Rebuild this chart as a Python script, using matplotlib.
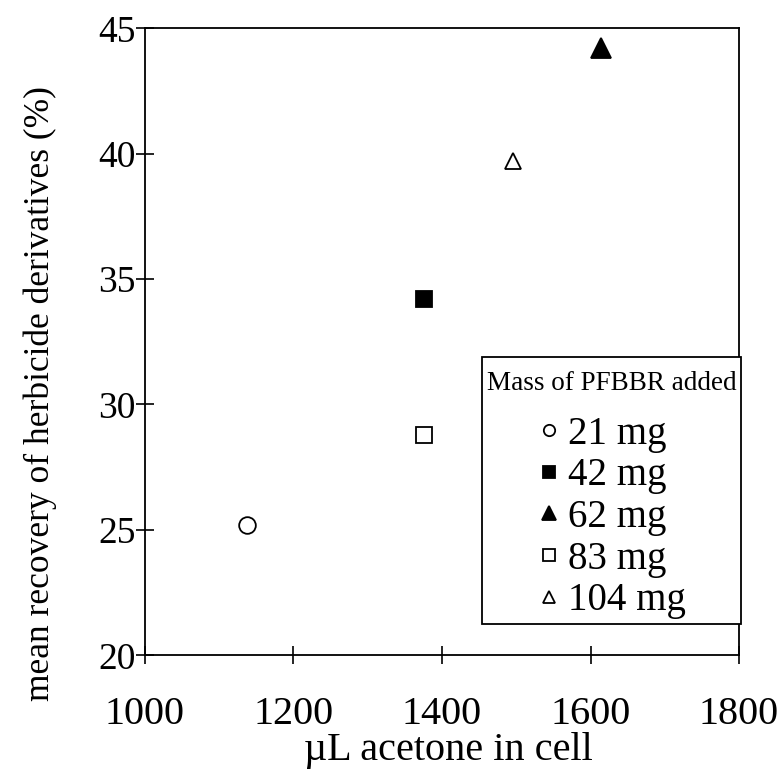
import matplotlib
matplotlib.use("Agg")
import matplotlib.pyplot as plt
from matplotlib.lines import Line2D
from matplotlib.offsetbox import VPacker, DrawingArea

plt.rcParams['font.family'] = ['Liberation Serif', 'DejaVu Serif']

labels = ["21 mg", "42 mg", "62 mg", "83 mg", "104 mg"]
acetone_uL = [1138, 1376, 1614, 1376, 1495]
recovery_pct = [25.2, 34.2, 44.2, 28.8, 39.7]
markers = ["o", "s", "^", "s", "^"]
fills = ["white", "black", "black", "white", "white"]
sizes = [12, 12, 14, 12, 12]

fig = plt.figure(figsize=(7.79, 7.81), dpi=100)
ax = fig.add_axes([0.186, 0.161, 0.7627, 0.8028])

handles = []
for x, y, m, f, s, lab in zip(acetone_uL, recovery_pct, markers, fills, sizes, labels):
    ax.plot([x], [y], linestyle="none", marker=m, markersize=s,
            markerfacecolor=f, markeredgecolor="black", markeredgewidth=1.3)
    handles.append(Line2D([], [], linestyle="none", marker=m, markersize=s * 0.68,
                          markerfacecolor=f, markeredgecolor="black",
                          markeredgewidth=1.3, label=lab))

ax.set_xlim(1000, 1800)
ax.set_ylim(20, 45)
ax.set_xticks([1000, 1200, 1400, 1600, 1800])
ax.set_yticks([20, 25, 30, 35, 40, 45])
ax.tick_params(axis="both", direction="inout", length=13, width=1.2)
ax.tick_params(axis="x", pad=23, labelsize=29)
ax.tick_params(axis="y", pad=0, labelsize=27)
for sp in ax.spines.values():
    sp.set_linewidth(1.3)

ax.set_xlabel("µL acetone in cell", fontsize=29)
ax.set_ylabel("mean recovery of herbicide derivatives (%)", fontsize=25.5)
ax.xaxis.set_label_coords(0.51, -0.122)
ax.yaxis.set_label_coords(-0.148, 0.417)

leg = ax.legend(handles=handles, loc="lower right", bbox_to_anchor=(1.003, 0.05),
                title="Mass of PFBBR added", title_fontsize=19.5,
                prop={"size": 28}, frameon=True, fancybox=False, edgecolor="black",
                handlelength=0.6, handletextpad=0.2, labelspacing=0.12,
                borderpad=0.12, borderaxespad=0.0)
title_wrapped = VPacker(children=[DrawingArea(0, 7), leg._legend_title_box],
                        pad=0, sep=0, align="center")
leg._legend_box._children = [title_wrapped, leg._legend_handle_box]
leg._legend_box.sep = 14
leg.get_frame().set_linewidth(1.3)
leg.get_frame().set_alpha(1)

fig.savefig("out.png", dpi=100)
